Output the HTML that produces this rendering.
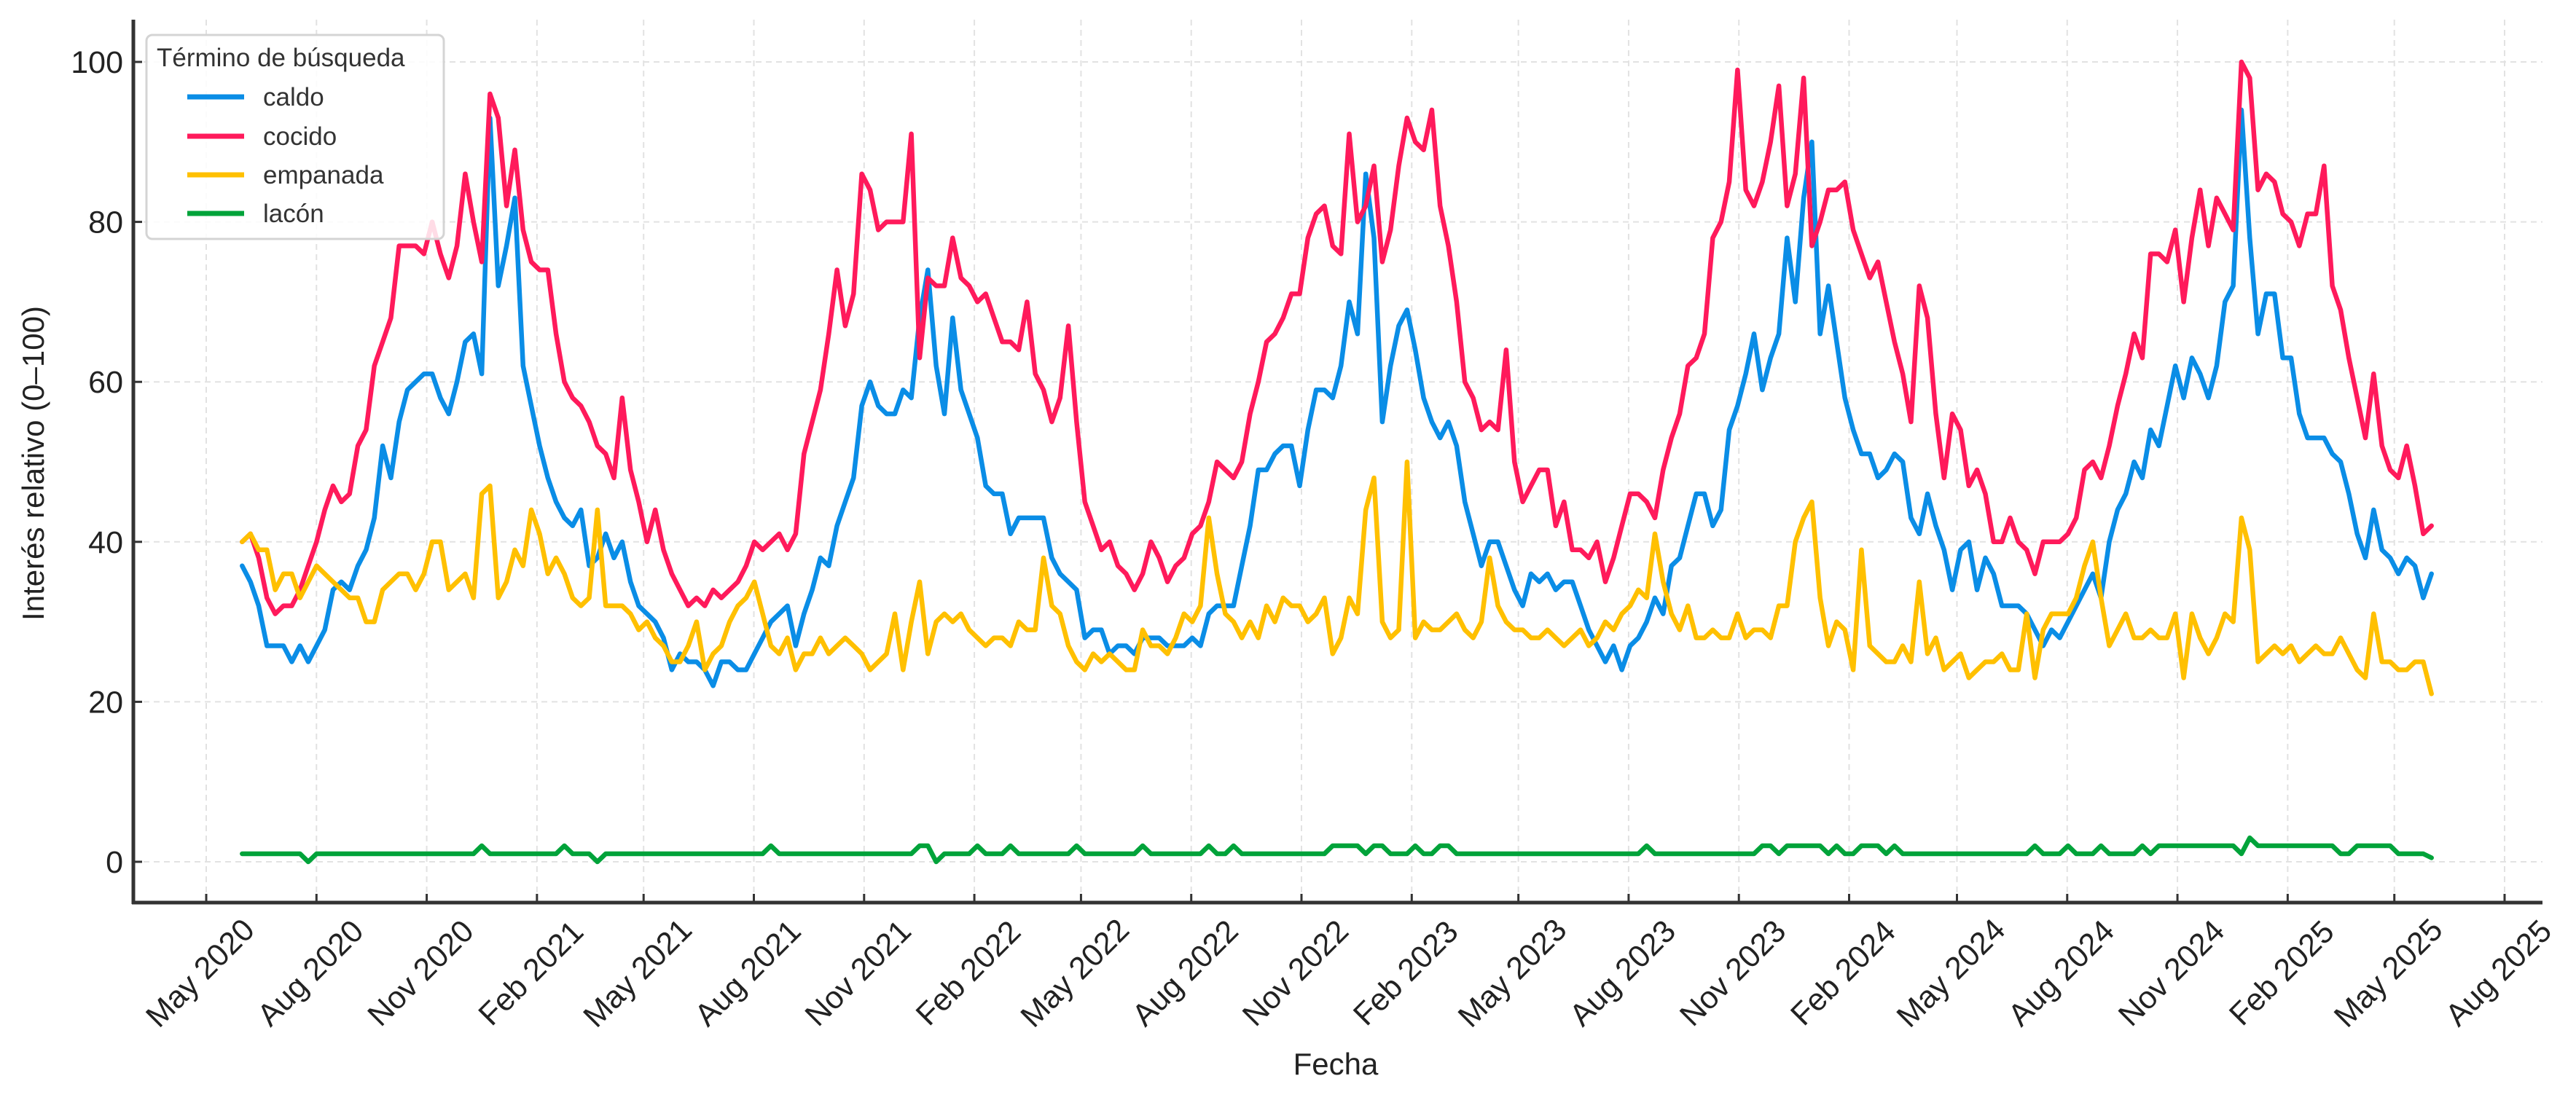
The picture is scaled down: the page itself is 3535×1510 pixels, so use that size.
<!DOCTYPE html>
<html><head><meta charset="utf-8"><style>
html,body{margin:0;padding:0;background:#fff;}
svg{display:block;font-family:"Liberation Sans","DejaVu Sans",sans-serif;}
</style></head><body>
<svg id="chart" width="3535" height="1510" viewBox="0 0 3535 1510" xmlns="http://www.w3.org/2000/svg">
<g id="grid"></g>
<g id="series"></g>
<g id="axes"></g>
<text x="1833" y="1475" font-size="42" text-anchor="middle" fill="#222">Fecha</text>
<text x="0" y="0" font-size="42" text-anchor="middle" fill="#222" transform="translate(60,636) rotate(-90)">Interés relativo (0–100)</text>
<g>
<rect x="201" y="48" width="408" height="280" rx="8" fill="#fff" fill-opacity="0.85" stroke="#d4d4d4" stroke-width="3"/>
<text x="215" y="91" font-size="35" fill="#333">Término de búsqueda</text>
<g><line x1="257" y1="133" x2="335" y2="133" stroke="#0a8de6" stroke-width="7"/><text x="361" y="145" font-size="35" fill="#333">caldo</text></g>
<g><line x1="257" y1="187" x2="335" y2="187" stroke="#ff1a5b" stroke-width="7"/><text x="361" y="199" font-size="35" fill="#333">cocido</text></g>
<g><line x1="257" y1="240" x2="335" y2="240" stroke="#ffc000" stroke-width="7"/><text x="361" y="252" font-size="35" fill="#333">empanada</text></g>
<g><line x1="257" y1="293" x2="335" y2="293" stroke="#00a33a" stroke-width="7"/><text x="361" y="305" font-size="35" fill="#333">lacón</text></g>
</g>
</svg>
<script>
const tickDates = ["2020-05-01","2020-08-01","2020-11-01","2021-02-01","2021-05-01","2021-08-01","2021-11-01","2022-02-01","2022-05-01","2022-08-01","2022-11-01","2023-02-01","2023-05-01","2023-08-01","2023-11-01","2024-02-01","2024-05-01","2024-08-01","2024-11-01","2025-02-01","2025-05-01","2025-08-01"];
const tickLabels = ["May 2020","Aug 2020","Nov 2020","Feb 2021","May 2021","Aug 2021","Nov 2021","Feb 2022","May 2022","Aug 2022","Nov 2022","Feb 2023","May 2023","Aug 2023","Nov 2023","Feb 2024","May 2024","Aug 2024","Nov 2024","Feb 2025","May 2025","Aug 2025"];
const yTicks = [0,20,40,60,80,100];
const seriesStart = "2020-05-31";
const seriesEnd = "2025-06-01";
const caldo = [37,35,32,27,27,27,25,27,25,27,29,34,35,34,37,39,43,52,48,55,59,60,61,61,58,56,60,65,66,61,93,72,77,83,62,57,52,48,45,43,42,44,37,38,41,38,40,35,32,31,30,28,24,26,25,25,24,22,25,25,24,24,26,28,30,31,32,27,31,34,38,37,42,45,48,57,60,57,56,56,59,58,68,74,62,56,68,59,56,53,47,46,46,41,43,43,43,43,38,36,35,34,28,29,29,26,27,27,26,28,28,28,27,27,27,28,27,31,32,32,32,37,42,49,49,51,52,52,47,54,59,59,58,62,70,66,86,78,55,62,67,69,64,58,55,53,55,52,45,41,37,40,40,37,34,32,36,35,36,34,35,35,32,29,27,25,27,24,27,28,30,33,31,37,38,42,46,46,42,44,54,57,61,66,59,63,66,78,70,83,90,66,72,65,58,54,51,51,48,49,51,50,43,41,46,42,39,34,39,40,34,38,36,32,32,32,31,29,27,29,28,30,32,34,36,33,40,44,46,50,48,54,52,57,62,58,63,61,58,62,70,72,94,78,66,71,71,63,63,56,53,53,53,51,50,46,41,38,44,39,38,36,38,37,33,36];
const cocido = [40,41,38,33,31,32,32,34,37,40,44,47,45,46,52,54,62,65,68,77,77,77,76,80,76,73,77,86,80,75,96,93,82,89,79,75,74,74,66,60,58,57,55,52,51,48,58,49,45,40,44,39,36,34,32,33,32,34,33,34,35,37,40,39,40,41,39,41,51,55,59,66,74,67,71,86,84,79,80,80,80,91,63,73,72,72,78,73,72,70,71,68,65,65,64,70,61,59,55,58,67,55,45,42,39,40,37,36,34,36,40,38,35,37,38,41,42,45,50,49,48,50,56,60,65,66,68,71,71,78,81,82,77,76,91,80,82,87,75,79,87,93,90,89,94,82,77,70,60,58,54,55,54,64,50,45,47,49,49,42,45,39,39,38,40,35,38,42,46,46,45,43,49,53,56,62,63,66,78,80,85,99,84,82,85,90,97,82,86,98,77,80,84,84,85,79,76,73,75,70,65,61,55,72,68,56,48,56,54,47,49,46,40,40,43,40,39,36,40,40,40,41,43,49,50,48,52,57,61,66,63,76,76,75,79,70,78,84,77,83,81,79,100,98,84,86,85,81,80,77,81,81,87,72,69,63,58,53,61,52,49,48,52,47,41,42];
const empanada = [40,41,39,39,34,36,36,33,35,37,36,35,34,33,33,30,30,34,35,36,36,34,36,40,40,34,35,36,33,46,47,33,35,39,37,44,41,36,38,36,33,32,33,44,32,32,32,31,29,30,28,27,25,25,27,30,24,26,27,30,32,33,35,31,27,26,28,24,26,26,28,26,27,28,27,26,24,25,26,31,24,30,35,26,30,31,30,31,29,28,27,28,28,27,30,29,29,38,32,31,27,25,24,26,25,26,25,24,24,29,27,27,26,28,31,30,32,43,36,31,30,28,30,28,32,30,33,32,32,30,31,33,26,28,33,31,44,48,30,28,29,50,28,30,29,29,30,31,29,28,30,38,32,30,29,29,28,28,29,28,27,28,29,27,28,30,29,31,32,34,33,41,35,31,29,32,28,28,29,28,28,31,28,29,29,28,32,32,40,43,45,33,27,30,29,24,39,27,26,25,25,27,25,35,26,28,24,25,26,23,24,25,25,26,24,24,31,23,29,31,31,31,33,37,40,33,27,29,31,28,28,29,28,28,31,23,31,28,26,28,31,30,43,39,25,26,27,26,27,25,26,27,26,26,28,26,24,23,31,25,25,24,24,25,25,21];
const lacon = [1,1,1,1,1,1,1,1,0,1,1,1,1,1,1,1,1,1,1,1,1,1,1,1,1,1,1,1,1,2,1,1,1,1,1,1,1,1,1,2,1,1,1,0,1,1,1,1,1,1,1,1,1,1,1,1,1,1,1,1,1,1,1,1,2,1,1,1,1,1,1,1,1,1,1,1,1,1,1,1,1,1,2,2,0,1,1,1,1,2,1,1,1,2,1,1,1,1,1,1,1,2,1,1,1,1,1,1,1,2,1,1,1,1,1,1,1,2,1,1,2,1,1,1,1,1,1,1,1,1,1,1,2,2,2,2,1,2,2,1,1,1,2,1,1,2,2,1,1,1,1,1,1,1,1,1,1,1,1,1,1,1,1,1,1,1,1,1,1,1,2,1,1,1,1,1,1,1,1,1,1,1,1,1,2,2,1,2,2,2,2,2,1,2,1,1,2,2,2,1,2,1,1,1,1,1,1,1,1,1,1,1,1,1,1,1,1,2,1,1,1,2,1,1,1,2,1,1,1,1,2,1,2,2,2,2,2,2,2,2,2,2,1,3,2,2,2,2,2,2,2,2,2,2,1,1,2,2,2,2,2,1,1,1,1,0.5];

const NS = "http://www.w3.org/2000/svg";
const X0 = 283, X1 = 3437, Y0 = 1183, PERUNIT = 10.98;
const L = 183, R = 3489, T = 27, B = 1239;
function t(d){ return Date.parse(d + "T00:00:00Z"); }
const tA = t(tickDates[0]), tB = t(tickDates[tickDates.length-1]);
function xs(ms){ return X0 + (ms - tA) / (tB - tA) * (X1 - X0); }
function ys(v){ return Y0 - v * PERUNIT; }
function mk(tag, attrs, parent){ const e = document.createElementNS(NS, tag); for (const k in attrs) e.setAttribute(k, attrs[k]); parent.appendChild(e); return e; }

const grid = document.getElementById('grid');
const axes = document.getElementById('axes');
const series = document.getElementById('series');

tickDates.forEach((d, i) => {
  const x = xs(t(d));
  const g = mk('line', {x1:x, x2:x, y1:T, y2:B, stroke:'#e2e2e2', 'stroke-width':2, 'stroke-dasharray':'8 6'}, grid);
  
  
  const tk = mk('line', {x1:x, x2:x, y1:B, y2:B-12, stroke:'#333', 'stroke-width':3}, axes);
  
  
  const lb = mk('text', {x:0, y:0, 'font-size':43, 'text-anchor':'middle', 'dominant-baseline':'central', fill:'#222', transform:'translate(' + (x-8) + ',1336) rotate(-45)'}, axes);
  lb.textContent = tickLabels[i];
  
  
});
yTicks.forEach(v => {
  const y = ys(v);
  const g = mk('line', {x1:L, x2:R, y1:y, y2:y, stroke:'#e2e2e2', 'stroke-width':2, 'stroke-dasharray':'8 6'}, grid);
  
  
  const tk = mk('line', {x1:L, x2:L+12, y1:y, y2:y, stroke:'#333', 'stroke-width':3}, axes);
  
  
  const lb = mk('text', {x:L-14, y:y+15, 'font-size':43, 'text-anchor':'end', fill:'#222'}, axes);
  lb.textContent = String(v);
  
  
});
const sp1 = mk('line', {x1:L, x2:L, y1:T, y2:B+2, stroke:'#333', 'stroke-width':5}, axes);


const sp2 = mk('line', {x1:L-2, x2:R, y1:B, y2:B, stroke:'#333', 'stroke-width':5}, axes);



const sA = t(seriesStart), sB = t(seriesEnd);
function drawSeries(vals, color, name){
  const n = vals.length;
  const pts = vals.map((v, i) => xs(sA + (sB - sA) * i / (n - 1)).toFixed(1) + ',' + ys(v).toFixed(1)).join(' ');
  const p = mk('polyline', {points:pts, fill:'none', stroke:color, 'stroke-width':6.5, 'stroke-linejoin':'round', 'stroke-linecap':'round'}, series);
  
  
}
drawSeries(caldo, '#0a8de6', 'line-caldo');
drawSeries(cocido, '#ff1a5b', 'line-cocido');
drawSeries(empanada, '#ffc000', 'line-empanada');
drawSeries(lacon, '#00a33a', 'line-lacon');
</script>
</body></html>
